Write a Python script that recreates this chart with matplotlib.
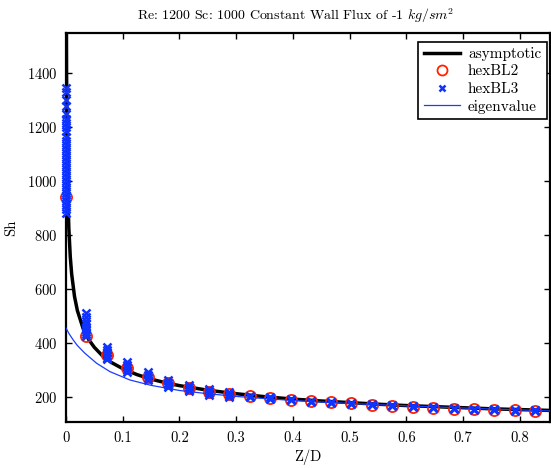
import matplotlib
matplotlib.use("Agg")
import matplotlib.pyplot as plt

# -----------------------------------------------------------------------------
# DATA
# -----------------------------------------------------------------------------

# asymptotic (Leveque-type) curve
asym_z = [0.0005, 0.001, 0.002, 0.003, 0.005, 0.0075, 0.01, 0.015, 0.02, 0.03,
          0.04, 0.05, 0.065, 0.08, 0.1, 0.125, 0.15, 0.175, 0.2, 0.25, 0.3,
          0.35, 0.4, 0.45, 0.5, 0.55, 0.6, 0.65, 0.7, 0.75, 0.8, 0.853]
asym_sh = [1780, 1410, 1120, 978, 825, 720, 655, 572, 520, 454,
           412, 383, 350, 327, 304, 282, 265, 252, 241, 224, 211,
           200, 191, 184, 178, 172, 167, 163, 159, 155, 152, 149]

# eigenvalue solution
eig_z = [0.0, 0.005, 0.0129, 0.02, 0.0334, 0.054, 0.0774, 0.1126, 0.15, 0.2,
         0.25, 0.3, 0.35, 0.4, 0.45, 0.5, 0.55, 0.6, 0.65, 0.7, 0.75, 0.8, 0.853]
eig_sh = [455, 435, 410, 390, 361, 324, 293, 262, 242, 223,
          211, 201, 193, 186, 180, 175, 170, 166, 162, 158, 154, 151, 147]

# sampling stations along the pipe
stations = [0.0, 0.036, 0.072, 0.108, 0.144, 0.180, 0.216, 0.252, 0.288, 0.324,
            0.360, 0.396, 0.431, 0.467, 0.503, 0.539, 0.575, 0.611, 0.647,
            0.683, 0.719, 0.755, 0.791, 0.827]

# hexBL2: one value per station
bl2_sh = [940, 425, 355, 305, 274, 250, 233, 219, 209, 201,
          195, 189, 183, 179, 175, 170, 166, 163, 159, 156, 154, 151, 149, 147]

# hexBL3: scatter of values at each station
bl3_sh = [
    [1345, 1330, 1300, 1280, 1250, 1230, 1215, 1200, 1185, 1165, 1150, 1135,
     1120, 1105, 1090, 1075, 1060, 1045, 1030, 1015, 1000, 985, 970, 955,
     940, 925, 910, 895, 880],
    [510, 495, 480, 470, 460, 450, 440, 432, 425],
    [385, 375, 365, 355, 345, 340],
    [328, 318, 310, 300, 292],
    [290, 280, 270, 262],
    [262, 252, 244, 236],
    [244, 235, 226, 220],
    [228, 220, 212, 208],
    [218, 210, 204, 200],
    [204, 199], [197, 193], [191, 187], [185, 181], [181, 177], [177, 173],
    [172, 168], [168, 164], [165, 161], [161, 157], [158, 154], [156, 152],
    [153, 149], [151, 147], [149, 145],
]

# -----------------------------------------------------------------------------
# STYLE
# -----------------------------------------------------------------------------

plt.rcParams["font.family"] = ["cmr10", "DejaVu Serif"]
plt.rcParams["mathtext.fontset"] = "cm"
plt.rcParams["axes.formatter.use_mathtext"] = True
plt.rcParams["font.size"] = 10.5

fig = plt.figure(figsize=(5.51, 4.68), dpi=100)
ax = fig.add_axes([66 / 551, 1 - 422 / 468, 484 / 551, (422 - 33) / 468])

ax.plot(asym_z, asym_sh, color="black", lw=2.5, label="asymptotic", zorder=2)

bl3_x, bl3_y = [], []
for z, vals in zip(stations, bl3_sh):
    bl3_x += [z] * len(vals)
    bl3_y += vals
ax.plot(stations, bl2_sh, "o", ms=8, mfc="none", mec="#ff2200", mew=1.3,
        label="hexBL2", zorder=3, clip_on=False)
ax.plot(bl3_x, bl3_y, "x", ms=5.5, color="#1033ff", mew=1.8,
        label="hexBL3", zorder=4, clip_on=False)
ax.plot(eig_z, eig_sh, color="#1a3cff", lw=0.9, label="eigenvalue", zorder=3)

ax.set_xlim(0, 0.853)
ax.set_ylim(106, 1550)
ax.set_xticks([0, 0.1, 0.2, 0.3, 0.4, 0.5, 0.6, 0.7, 0.8])
ax.set_xticklabels(["0", "0.1", "0.2", "0.3", "0.4", "0.5", "0.6", "0.7", "0.8"])
ax.set_yticks([200, 400, 600, 800, 1000, 1200, 1400])
ax.tick_params(direction="in", length=4, width=1, top=True, right=True,
               labelsize=10.5, colors="black")
ax.tick_params(axis="x", pad=7)
ax.tick_params(axis="y", pad=6)
for s in ax.spines.values():
    s.set_linewidth(1.6)

ax.set_xlabel("Z/D", fontsize=10.5, labelpad=3)
ax.set_ylabel("Sh", fontsize=10.5)
ax.yaxis.set_label_coords(-0.099, 0.5)
fig.text(295 / 551, 1 - 16 / 468, r"Re: 1200 Sc: 1000 Constant Wall Flux of -1 $kg/sm^2$",
         ha="center", va="center", fontsize=10)

leg = ax.legend(loc="upper right", bbox_to_anchor=(0.993, 0.978), fancybox=False,
                edgecolor="black", framealpha=1, fontsize=11, borderaxespad=0,
                handlelength=2.4, labelspacing=0.25, borderpad=0.35, handletextpad=0.5,
                markerscale=0.9)
leg.get_frame().set_linewidth(1.2)

fig.savefig("out.png", dpi=100)
